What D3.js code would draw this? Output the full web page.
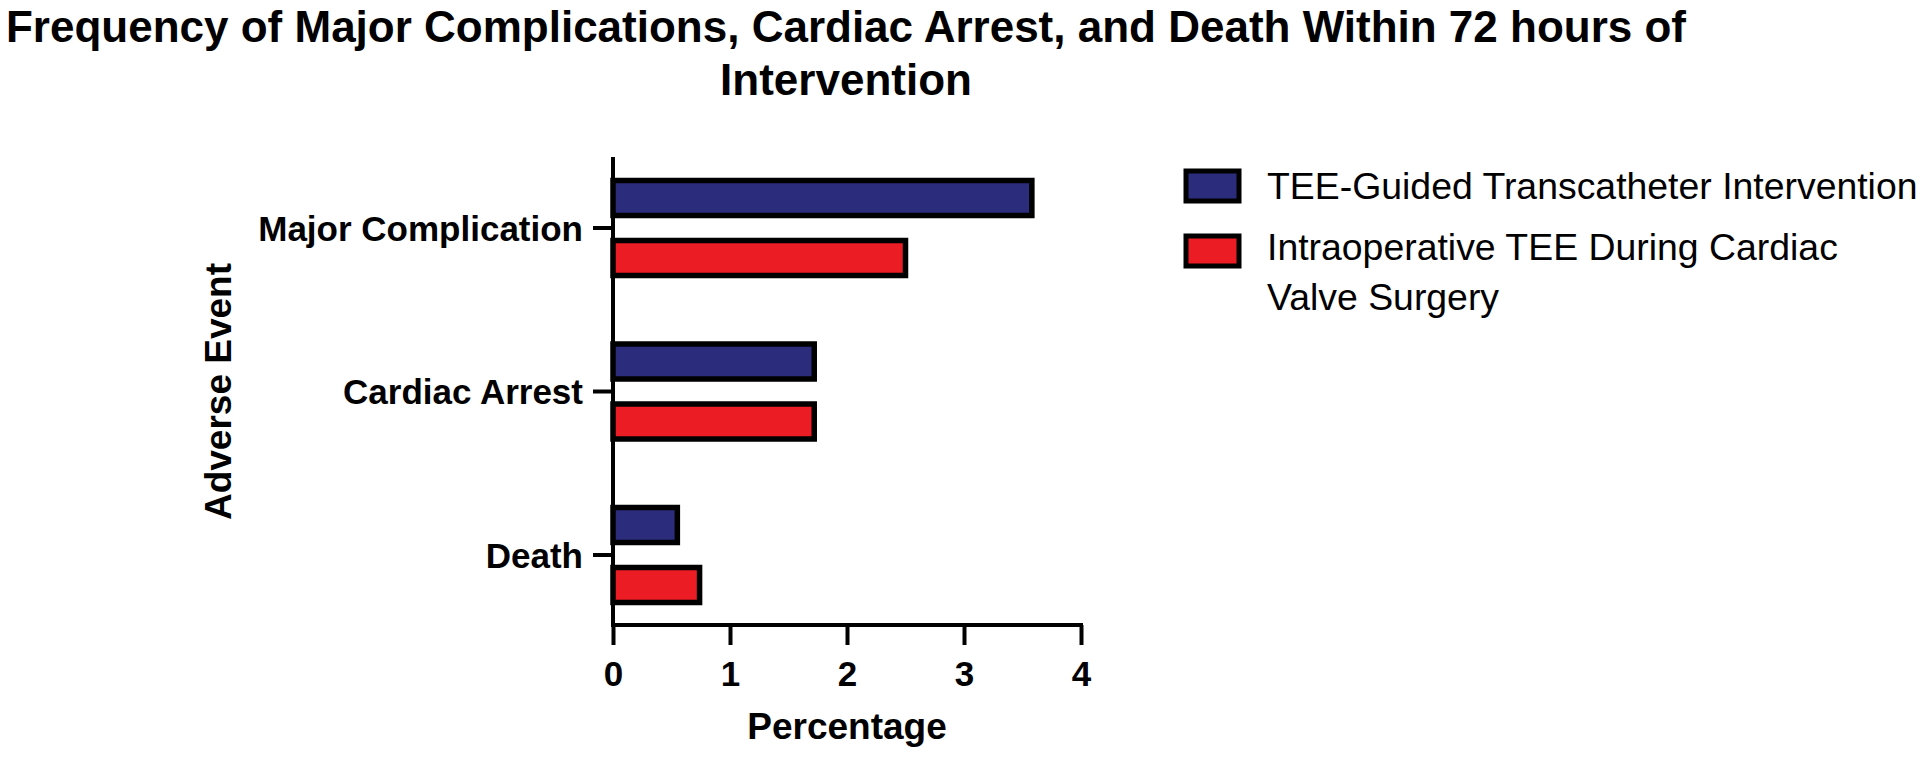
<!DOCTYPE html>
<html>
<head>
<meta charset="utf-8">
<script src="https://cdn.jsdelivr.net/npm/d3@7"></script>
<style>
  html, body { margin: 0; padding: 0; background: #fff; }
  svg { display: block; }
  text { font-family: "Liberation Sans", Arial, Helvetica, sans-serif; fill: #000; }
</style>
</head>
<body>
<script>
// ---- data ----
const categories = ["Major Complication", "Cardiac Arrest", "Death"];
const seriesNames = ["TEE-Guided Transcatheter Intervention", "Intraoperative TEE During Cardiac Valve Surgery"];
const teeGuided = [3.58, 1.72, 0.55];
const intraoperative = [2.50, 1.72, 0.74];
const xTicks = [0, 1, 2, 3, 4];
const seriesColors = ["#2b2c7c", "#ec1c24"];
const titleLines = ["Frequency of Major Complications, Cardiac Arrest, and Death Within 72 hours of", "Intervention"];
const legendLines = [["TEE-Guided Transcatheter Intervention"], ["Intraoperative TEE During Cardiac", "Valve Surgery"]];

const W = 1924, H = 759;
const svg = d3.select("body").append("svg").attr("width", W).attr("height", H);

const x = d3.scaleLinear().domain([0, 4]).range([613, 1081]);
const y = d3.scaleBand().domain(categories).range([146.25, 636.75]).padding(0);
const yc = c => y(c) + y.bandwidth() / 2;

// title
svg.append("text").attr("x", 846).attr("y", 42).attr("text-anchor", "middle")
  .attr("font-size", 44).attr("font-weight", "bold").text(titleLines[0]);
svg.append("text").attr("x", 846).attr("y", 95).attr("text-anchor", "middle")
  .attr("font-size", 44).attr("font-weight", "bold").text(titleLines[1]);

// bars
const seriesData = [teeGuided, intraoperative];
const offsets = [-30, 30];
const barH = 35;
seriesData.forEach((vals, si) => {
  svg.append("g").selectAll("rect").data(categories).join("rect")
    .attr("x", x(0))
    .attr("y", (c) => yc(c) + offsets[si] - barH / 2)
    .attr("width", (c, i) => x(vals[i]) - x(0))
    .attr("height", barH)
    .attr("fill", seriesColors[si])
    .attr("stroke", "#000")
    .attr("stroke-width", 5.5);
});

// y axis
const yAxis = svg.append("g").attr("transform", `translate(${x(0)},0)`)
  .call(d3.axisLeft(y).tickSize(20).tickPadding(10));
yAxis.select(".domain").remove();
yAxis.selectAll(".tick line").attr("stroke", "#000").attr("stroke-width", 4);
yAxis.selectAll(".tick text").attr("font-size", 35).attr("font-weight", "bold")
  .attr("font-family", "Liberation Sans, Arial, sans-serif").attr("fill", "#000").attr("dy", "0.36em");
svg.append("line").attr("x1", x(0)).attr("x2", x(0)).attr("y1", 157).attr("y2", 627)
  .attr("stroke", "#000").attr("stroke-width", 4);

// x axis
const xAxis = svg.append("g").attr("transform", `translate(0,625)`)
  .call(d3.axisBottom(x).tickValues(xTicks).tickFormat(d3.format("d")).tickSize(20).tickPadding(16));
xAxis.select(".domain").remove();
xAxis.selectAll(".tick line").attr("stroke", "#000").attr("stroke-width", 4);
xAxis.selectAll(".tick text").attr("font-size", 35).attr("font-weight", "bold")
  .attr("font-family", "Liberation Sans, Arial, sans-serif").attr("fill", "#000");
svg.append("line").attr("x1", x(0) - 2).attr("x2", x(4) + 2).attr("y1", 625).attr("y2", 625)
  .attr("stroke", "#000").attr("stroke-width", 4);

// axis titles
svg.append("text").attr("x", x(2)).attr("y", 739).attr("text-anchor", "middle")
  .attr("font-size", 37).attr("font-weight", "bold").text("Percentage");
svg.append("text").attr("transform", `translate(231,${yc(categories[1])}) rotate(-90)`)
  .attr("text-anchor", "middle").attr("font-size", 37).attr("font-weight", "bold").text("Adverse Event");

// legend
const legendTops = [169, 234];
seriesNames.forEach((name, i) => {
  const g = svg.append("g");
  g.append("rect").attr("x", 1186).attr("y", legendTops[i] + 2).attr("width", 53).attr("height", 30)
    .attr("fill", seriesColors[i]).attr("stroke", "#000").attr("stroke-width", 5);
  legendLines[i].forEach((ln, j) => {
    g.append("text").attr("x", 1267).attr("y", (i === 0 ? 199 : 260) + j * 50)
      .attr("font-size", 37.4).text(ln);
  });
});
</script>
</body>
</html>
